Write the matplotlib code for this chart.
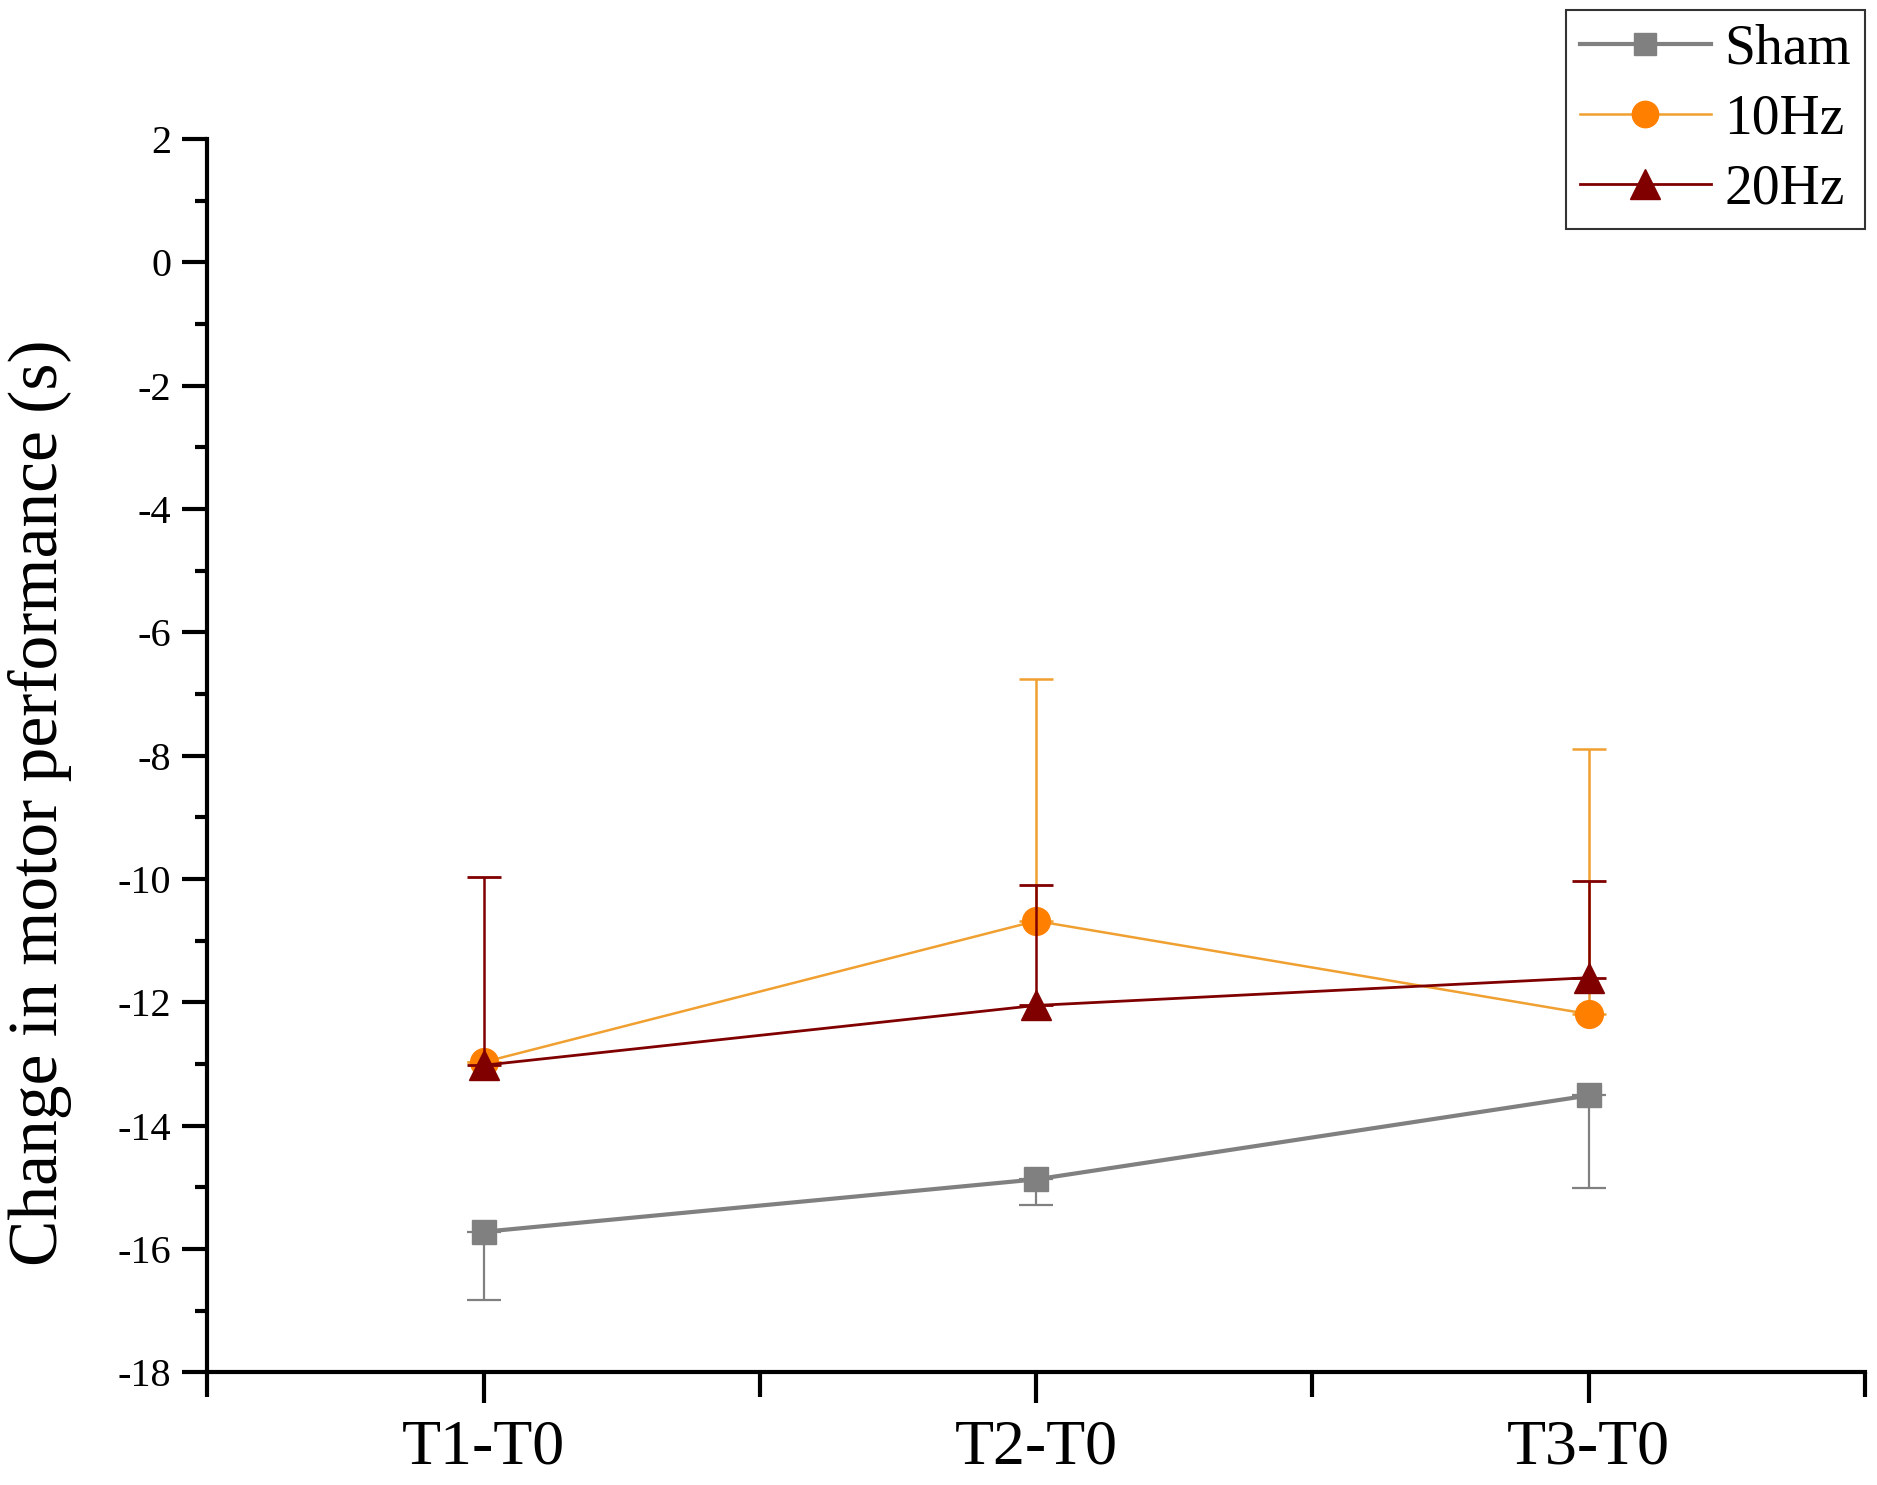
import matplotlib
matplotlib.use("Agg")
import matplotlib.pyplot as plt
from matplotlib.lines import Line2D
from matplotlib.ticker import MultipleLocator

plt.rcParams['font.family'] = ['Liberation Serif', 'DejaVu Serif']
plt.rcParams['axes.unicode_minus'] = False

# data
periods = ["T1-T0", "T2-T0", "T3-T0"]
sham_mean = [-15.72, -14.87, -13.51]
sham_err = [1.11, 0.41, 1.50]      # drawn downward only
hz10_mean = [-12.97, -10.68, -12.19]
hz10_err = [0.0, 3.93, 4.30]       # drawn upward only
hz20_mean = [-13.02, -12.05, -11.60]
hz20_err = [3.06, 1.95, 1.57]      # drawn upward only

x = [1, 2, 3]

fig = plt.figure(figsize=(18.77, 14.85), dpi=100)
ax = fig.add_axes([0.1104, 0.0758, 0.8832, 0.8307])

zero = [0, 0, 0]

styles = [
    dict(color="#808080", marker="s", markersize=17, linewidth=3,
         markerfacecolor="#808080", markeredgecolor="#808080"),
    dict(color="#F0A030", marker="o", markersize=20, linewidth=1.8,
         markerfacecolor="#FF8000", markeredgecolor="#FF8000"),
    dict(color="#800000", marker="^", markersize=22, linewidth=2,
         markerfacecolor="#800000", markeredgecolor="#800000"),
]

ax.errorbar(x, sham_mean, yerr=[sham_err, zero], elinewidth=1.6,
            capsize=12, capthick=1.6, zorder=3, **styles[0])
ax.errorbar(x, hz10_mean, yerr=[zero, hz10_err], elinewidth=1.8,
            capsize=12, capthick=1.8, zorder=4, **styles[1])
ax.errorbar(x, hz20_mean, yerr=[zero, hz20_err], elinewidth=1.8,
            capsize=12, capthick=2, zorder=5, **styles[2])

ax.set_xlim(0.5, 3.5)
ax.set_ylim(-18, 2)
ax.set_xticks(x)
ax.set_xticklabels(periods)
ax.set_xticks([0.5, 1.5, 2.5, 3.5], minor=True)
ax.yaxis.set_major_locator(MultipleLocator(2))
ax.yaxis.set_minor_locator(MultipleLocator(1))

for side in ["top", "right"]:
    ax.spines[side].set_visible(False)
for side in ["left", "bottom"]:
    ax.spines[side].set_linewidth(3)

ax.tick_params(axis="y", which="major", direction="out", length=18, width=3,
               labelsize=29, pad=8)
ax.tick_params(axis="y", which="minor", direction="out", length=9, width=3)
ax.tick_params(axis="x", which="major", direction="out", length=22, width=3,
               labelsize=46, pad=12)
ax.tick_params(axis="x", which="minor", direction="out", length=18, width=3)

ax.set_ylabel("Change in motor performance (s)", fontsize=50)
ax.yaxis.set_label_coords(-0.101, 0.462)
ax.yaxis.label.set_verticalalignment("center")

handles = [Line2D([], [], **st) for st in styles]
leg = ax.legend(handles, ["Sham", "10Hz", "20Hz"], loc="upper right",
                bbox_to_anchor=(0.9936, 0.9933),
                bbox_transform=fig.transFigure, borderaxespad=0,
                fontsize=40, frameon=True, fancybox=False, edgecolor="black",
                handlelength=2.35, labelspacing=0.32, borderpad=0.25,
                handletextpad=0.25, markerscale=0.95)
leg.get_frame().set_linewidth(1.5)

fig.savefig("out.png", dpi=100)
